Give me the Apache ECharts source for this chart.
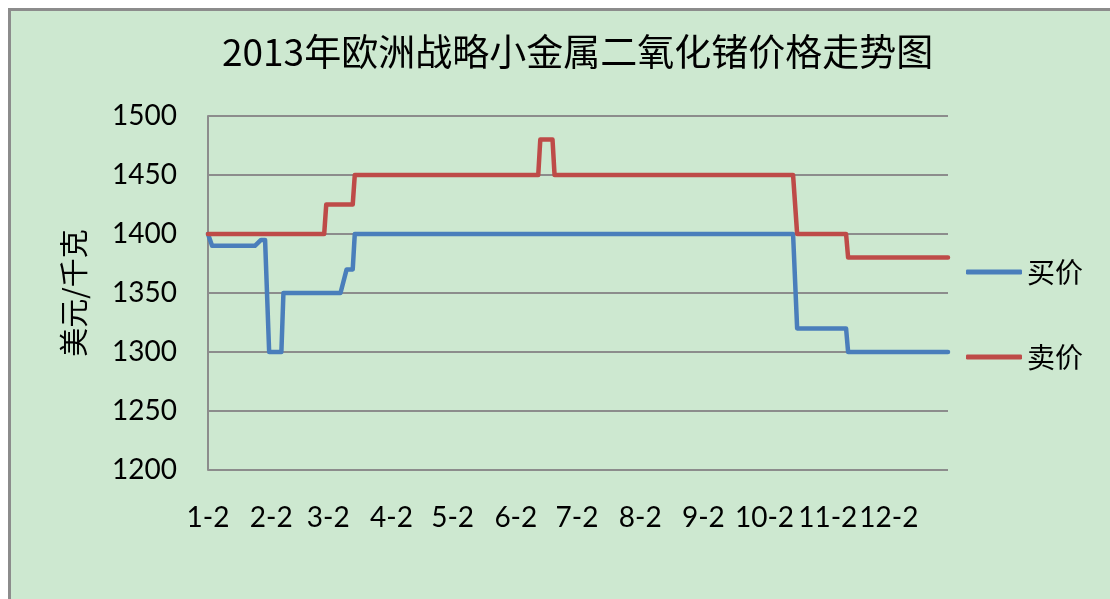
<!DOCTYPE html>
<html>
<head>
<meta charset="utf-8">
<script src="https://cdn.jsdelivr.net/npm/echarts@6/dist/echarts.min.js"></script>
<style>
html,body{margin:0;padding:0;background:#fff;}
#chart{width:1110px;height:599px;}
</style>
</head>
<body>
<div id="chart"></div>
<script>
// ---- data ----
const titleText = '2013年欧洲战略小金属二氧化锗价格走势图';
const yAxisName = '美元/千克';
const seriesNames = ['买价', '卖价'];

const buyDates  = ['2013-01-02','2013-01-04','2013-01-25','2013-01-28','2013-01-30','2013-02-01','2013-02-07','2013-02-08','2013-03-08','2013-03-11','2013-03-14','2013-03-15','2013-10-16','2013-10-18','2013-11-11','2013-11-12','2013-12-31'];
const buyPrices = [1400, 1390, 1390, 1395, 1395, 1300, 1300, 1350, 1350, 1370, 1370, 1400, 1400, 1320, 1320, 1300, 1300];

const sellDates  = ['2013-01-02','2013-02-28','2013-03-01','2013-03-14','2013-03-15','2013-06-13','2013-06-14','2013-06-20','2013-06-21','2013-10-16','2013-10-18','2013-11-11','2013-11-12','2013-12-31'];
const sellPrices = [1400, 1400, 1425, 1425, 1450, 1450, 1480, 1480, 1450, 1450, 1400, 1400, 1380, 1380];

const tickDates  = ['2013-01-02','2013-02-02','2013-03-02','2013-04-02','2013-05-02','2013-06-02','2013-07-02','2013-08-02','2013-09-02','2013-10-02','2013-11-02','2013-12-02'];
const tickLabels = ['1-2','2-2','3-2','4-2','5-2','6-2','7-2','8-2','9-2','10-2','11-2','12-2'];
const xMinDate = '2013-01-02';
const xMaxDate = '2013-12-31';
const yMin = 1200, yMax = 1500, yStep = 50;

// ---- helpers: dates -> day number counted from xMinDate ----
function ts(s) { const p = s.split('-').map(Number); return Date.UTC(p[0], p[1] - 1, p[2]); }
function day(s) { return Math.round((ts(s) - ts(xMinDate)) / 86400000); }
const tickDays = tickDates.map(day);
function pairs(dates, vals) { return dates.map((d, i) => [day(d), vals[i]]); }

const numFont = 'Lato';
const cjkFont = '"Noto Sans CJK SC"';
const gridGray = '#8c8c8c';

const chart = echarts.init(document.getElementById('chart'), null, { renderer: 'canvas' });
chart.setOption({
  backgroundColor: '#ffffff',
  animation: false,
  graphic: [{
    type: 'rect', z: -100, silent: true,
    shape: { x: 9.5, y: 9.5, width: 1300, height: 800 },
    style: { fill: '#cde8d0', stroke: '#8c8c8c', lineWidth: 3 }
  }],
  title: {
    text: titleText,
    left: 222, top: 33,
    padding: 0,
    textStyle: { fontFamily: cjkFont + ', ' + numFont, fontSize: 37, fontWeight: 'normal', color: '#000' }
  },
  legend: {
    orient: 'vertical',
    left: 966, top: 257,
    padding: 0,
    itemWidth: 56, itemHeight: 5, itemGap: 55,
    icon: 'roundRect',
    data: seriesNames,
    textStyle: { fontFamily: cjkFont, fontSize: 28, lineHeight: 30, color: '#000' }
  },
  grid: { left: 208, right: 162, top: 116, bottom: 129, outerBoundsMode: 'none', containLabel: false },
  xAxis: {
    type: 'value',
    min: day(xMinDate), max: day(xMaxDate),
    axisLine: { show: false },
    axisTick: { show: false },
    splitLine: { show: false },
    axisLabel: {
      customValues: tickDays,
      margin: 34,
      fontFamily: numFont, fontSize: 28, color: '#000',
      formatter: function (v) { const i = tickDays.indexOf(v); return i >= 0 ? tickLabels[i] : ''; }
    }
  },
  yAxis: {
    type: 'value',
    min: yMin, max: yMax, interval: yStep,
    name: yAxisName,
    nameLocation: 'middle',
    nameGap: 120,
    nameTextStyle: { fontFamily: cjkFont, fontSize: 29, color: '#000' },
    axisLine: { show: true, lineStyle: { color: gridGray, width: 2 } },
    axisTick: { show: false },
    splitLine: { show: true, lineStyle: { color: gridGray, width: 2 } },
    axisLabel: { margin: 31, fontFamily: numFont, fontSize: 28, color: '#000', formatter: function (v) { return String(v); } }
  },
  series: [
    {
      name: seriesNames[0], type: 'line', showSymbol: false, symbol: 'none',
      data: pairs(buyDates, buyPrices),
      lineStyle: { color: '#4a7ebb', width: 4.5, join: 'round', cap: 'round' },
      itemStyle: { color: '#4a7ebb' }
    },
    {
      name: seriesNames[1], type: 'line', showSymbol: false, symbol: 'none',
      data: pairs(sellDates, sellPrices),
      lineStyle: { color: '#be4b48', width: 4.5, join: 'round', cap: 'round' },
      itemStyle: { color: '#be4b48' }
    }
  ]
});
</script>
</body>
</html>
